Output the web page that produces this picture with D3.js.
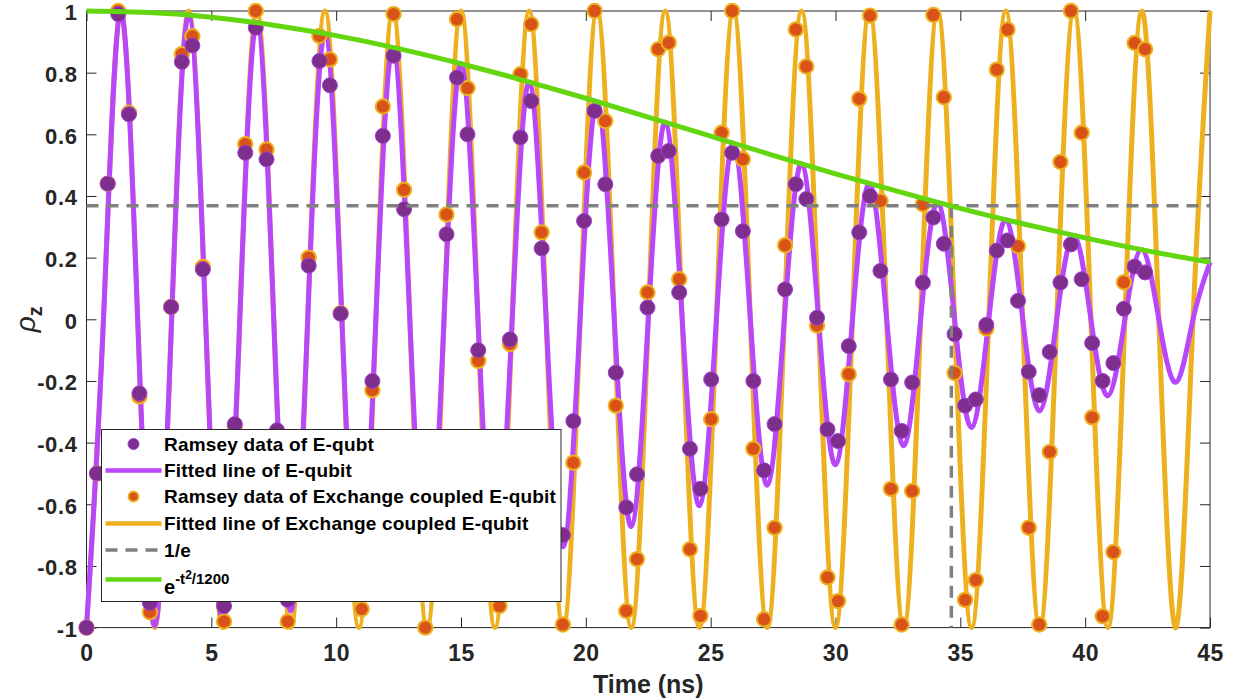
<!DOCTYPE html>
<meta charset="UTF-8">
<head>
<script src="https://d3js.org/d3.v7.min.js"></script>
</head>
<style>
body { margin: 0; background: #fff; }
svg text { font-family: "Liberation Sans", Arial, sans-serif; font-weight: bold; fill: #262626; }
.axis path { display: none; }
.axis line { stroke: #262626; stroke-width: 1px; }
</style>
<body>
<div id="chart"></div>
<script>

// measured sample times (ns), shared by both Ramsey data sets
var tData = [0, 0.42, 0.85, 1.27, 1.70, 2.12, 2.54, 2.97, 3.39, 3.82,
  4.24, 4.66, 5.09, 5.51, 5.94, 6.36, 6.78, 7.21, 7.63, 8.06,
  8.48, 8.90, 9.33, 9.75, 10.18, 10.60, 11.02, 11.45, 11.87, 12.30,
  12.72, 13.14, 13.57, 13.99, 14.42, 14.84, 15.26, 15.69, 16.11, 16.54,
  16.96, 17.38, 17.81, 18.23, 18.66, 19.08, 19.50, 19.93, 20.35, 20.78,
  21.20, 21.62, 22.05, 22.47, 22.90, 23.32, 23.74, 24.17, 24.59, 25.02,
  25.44, 25.86, 26.29, 26.71, 27.14, 27.56, 27.98, 28.41, 28.83, 29.26,
  29.68, 30.10, 30.53, 30.95, 31.38, 31.80, 32.22, 32.65, 33.07, 33.50,
  33.92, 34.34, 34.77, 35.19, 35.62, 36.04, 36.46, 36.89, 37.31, 37.74,
  38.16, 38.58, 39.01, 39.43, 39.86, 40.28, 40.70, 41.13, 41.55, 41.98, 42.40];

// Ramsey data of E-qubit
var ramseyE = [-1, -0.50, 0.44, 0.99, 0.665, -0.24, -0.92, -0.84, 0.04, 0.835,
  0.888, 0.162, -0.65, -0.93, -0.34, 0.54, 0.946, 0.519, -0.36, -0.91,
  -0.73, 0.174, 0.838, 0.759, 0.018, -0.69, -0.88, -0.20, 0.595, 0.855,
  0.357, -0.40, -0.85, -0.58, 0.276, 0.784, 0.60, -0.10, -0.68, -0.75,
  -0.065, 0.59, 0.708, 0.23, -0.41, -0.70, -0.33, 0.319, 0.676, 0.438,
  -0.173, -0.61, -0.503, 0.038, 0.53, 0.546, 0.087, -0.42, -0.55, -0.195,
  0.324, 0.54, 0.286, -0.20, -0.49, -0.34, 0.097, 0.438, 0.39, 0.005,
  -0.357, -0.395, -0.087, 0.282, 0.40, 0.157, -0.195, -0.362, -0.205, 0.119,
  0.33, 0.245, -0.048, -0.28, -0.26, -0.018, 0.223, 0.256, 0.06, -0.17,
  -0.246, -0.106, 0.119, 0.243, 0.13, -0.077, -0.20, -0.142, 0.034, 0.171, 0.152];

// Ramsey data of exchange coupled E-qubit
var ramseyX = [-1, -0.50, 0.44, 1.0, 0.67, -0.25, -0.95, -0.87, 0.04, 0.86,
  0.918, 0.17, -0.66, -0.98, -0.35, 0.568, 1.0, 0.551, -0.37, -0.98,
  -0.77, 0.20, 0.919, 0.843, 0.02, -0.76, -0.94, -0.23, 0.69, 0.99,
  0.42, -0.47, -1.0, -0.68, 0.34, 0.973, 0.75, -0.135, -0.84, -0.93,
  -0.08, 0.795, 0.957, 0.282, -0.55, -0.99, -0.465, 0.476, 1.0, 0.643,
  -0.28, -0.946, -0.778, 0.087, 0.876, 0.897, 0.13, -0.746, -0.962, -0.324,
  0.605, 1.0, 0.519, -0.42, -0.973, -0.676, 0.24, 0.94, 0.82, -0.02,
  -0.837, -0.914, -0.178, 0.715, 0.985, 0.384, -0.55, -0.99, -0.557, 0.373,
  0.987, 0.72, -0.174, -0.91, -0.846, -0.03, 0.81, 0.94, 0.237, -0.676,
  -0.99, -0.43, 0.51, 1.0, 0.605, -0.318, -0.963, -0.755, 0.12, 0.896, 0.876];

// fitted lines: extrema and zero crossings
var fitT = [0, 0.68, 1.36, 2.05, 2.73, 3.41, 4.09, 4.77, 5.45, 6.14,
  6.82, 7.50, 8.18, 8.86, 9.55, 10.23, 10.91, 11.59, 12.27, 12.95,
  13.64, 14.32, 15.00, 15.68, 16.36, 17.05, 17.73, 18.41, 19.09, 19.77,
  20.45, 21.14, 21.82, 22.50, 23.18, 23.86, 24.55, 25.23, 25.91, 26.59,
  27.27, 27.95, 28.64, 29.32, 30.00, 30.68, 31.36, 32.05, 32.73, 33.41,
  34.09, 34.77, 35.45, 36.14, 36.82, 37.50, 38.18, 38.86, 39.55, 40.23,
  40.91, 41.59, 42.27, 42.95, 43.64, 44.32, 45.00];
var fitE = [-1, 0, 0.998, 0, -0.994, 0, 0.986, 0, -0.975, 0,
  0.962, 0, -0.946, 0, 0.927, 0, -0.905, 0, 0.882, 0,
  -0.856, 0, 0.829, 0, -0.800, 0, 0.769, 0, -0.738, 0,
  0.706, 0, -0.672, 0, 0.639, 0, -0.605, 0, 0.571, 0,
  -0.538, 0, 0.505, 0, -0.472, 0, 0.440, 0, -0.410, 0,
  0.379, 0, -0.351, 0, 0.323, 0, -0.297, 0, 0.272, 0,
  -0.248, 0, 0.226, 0, -0.204, 0, 0.185];
var fitX = [-1, 0, 1, 0, -1, 0, 1, 0, -1, 0,
  1, 0, -1, 0, 1, 0, -1, 0, 1, 0,
  -1, 0, 1, 0, -1, 0, 1, 0, -1, 0,
  1, 0, -1, 0, 1, 0, -1, 0, 1, 0,
  -1, 0, 1, 0, -1, 0, 1, 0, -1, 0,
  1, 0, -1, 0, 1, 0, -1, 0, 1, 0,
  -1, 0, 1, 0, -1, 0, 1];

// envelope e^(-t^2/1200)
var envT = [0, 2.5, 5, 7.5, 10, 12.5, 15, 17.5, 20, 22.5, 25, 27.5, 30, 32.5, 35, 37.5, 40, 42.5, 45];
var envV = [1, 0.995, 0.98, 0.954, 0.92, 0.878, 0.829, 0.775, 0.717, 0.656, 0.594, 0.532, 0.472, 0.415, 0.36, 0.31, 0.264, 0.222, 0.185];

var invE = 0.368;      // 1/e level
var crossT = 34.64;    // where envelope meets 1/e

var xTicks = [0, 5, 10, 15, 20, 25, 30, 35, 40, 45];
var yTicks = [-1, -0.8, -0.6, -0.4, -0.2, 0, 0.2, 0.4, 0.6, 0.8, 1];
var yTickLabels = ["-1", "-0.8", "-0.6", "-0.4", "-0.2", "0", "0.2", "0.4", "0.6", "0.8", "1"];
var legendLabels = ["Ramsey data of E-qubt", "Fitted line of E-qubit",
  "Ramsey data of Exchange coupled E-qubit", "Fitted line of Exchange coupled E-qubit", "1/e"];

// Set the dimensions and margins of the diagram
var margin = {top: 11, right: 23, bottom: 72.4, left: 86.5},
    width = 1233 - margin.left - margin.right,
    height = 700 - margin.top - margin.bottom;

var svg = d3.select("#chart").append("svg")
    .attr("width", 1233)
    .attr("height", 700)
  .append("g")
    .attr("transform", "translate(" + margin.left + "," + margin.top + ")");

var x = d3.scaleLinear().domain([0, 45]).range([0, width]);
var y = d3.scaleLinear().domain([-1, 1]).range([height, 0]);

var purpleLine = "#b846fb", purpleDot = "#7e2f8e", orangeLine = "#edb120", orangeDot = "#d95319",
    green = "#64d60f";

// axes (ticks inside, box on)
svg.append("g").attr("class", "axis")
    .attr("transform", "translate(0," + height + ")")
    .call(d3.axisBottom(x).tickValues(xTicks).tickSizeInner(-10).tickSizeOuter(0).tickPadding(17))
    .selectAll("text").style("font-size", "23px").style("letter-spacing", "0.5px");
svg.append("g").attr("class", "axis")
    .call(d3.axisTop(x).tickValues(xTicks).tickSizeInner(-10).tickSizeOuter(0).tickFormat(""));
svg.append("g").attr("class", "axis")
    .call(d3.axisLeft(y).tickValues(yTicks).tickSizeInner(-10).tickSizeOuter(0).tickPadding(9)
      .tickFormat(function(d, i) { return yTickLabels[i]; }))
    .selectAll("text").attr("dy", "0.4em").style("font-size", "22px").style("letter-spacing", "0.6px");
svg.append("g").attr("class", "axis")
    .attr("transform", "translate(" + width + ",0)")
    .call(d3.axisRight(y).tickValues(yTicks).tickSizeInner(-10).tickSizeOuter(0).tickFormat(""));

svg.append("rect")
    .attr("width", width).attr("height", height)
    .attr("fill", "none").attr("stroke", "#262626").attr("stroke-width", 1);

var curve = d3.line()
    .x(function(d) { return x(d[0]); })
    .y(function(d) { return y(d[1]); })
    .curve(d3.curveNatural);

// fitted lines
svg.append("path").datum(d3.zip(fitT, fitX))
    .attr("d", curve).attr("fill", "none")
    .attr("stroke", orangeLine).attr("stroke-width", 5);
svg.append("path").datum(d3.zip(fitT, fitE))
    .attr("d", curve).attr("fill", "none")
    .attr("stroke", purpleLine).attr("stroke-width", 5);

// data points
svg.append("g").selectAll("circle")
    .data(d3.zip(tData, ramseyX))
  .enter().append("circle")
    .attr("cx", function(d) { return x(d[0]); })
    .attr("cy", function(d) { return y(d[1]); })
    .attr("r", 7.2)
    .attr("fill", orangeDot).attr("stroke", orangeLine).attr("stroke-width", 2);
svg.append("g").selectAll("circle")
    .data(d3.zip(tData, ramseyE))
  .enter().append("circle")
    .attr("cx", function(d) { return x(d[0]); })
    .attr("cy", function(d) { return y(d[1]); })
    .attr("r", 7.5)
    .attr("fill", purpleDot).attr("stroke", "#a03fd2").attr("stroke-width", 1);

// 1/e guide lines
svg.append("line")
    .attr("x1", x(0)).attr("x2", x(45)).attr("y1", y(invE)).attr("y2", y(invE))
    .attr("stroke", "#808080").attr("stroke-width", 3.5).attr("stroke-dasharray", "12,8");
svg.append("line")
    .attr("x1", x(crossT)).attr("x2", x(crossT)).attr("y1", y(invE)).attr("y2", y(-1))
    .attr("stroke", "#808080").attr("stroke-width", 3.5).attr("stroke-dasharray", "12,8");

// envelope
svg.append("path").datum(d3.zip(envT, envV))
    .attr("d", curve).attr("fill", "none")
    .attr("stroke", green).attr("stroke-width", 5);

// axis labels
svg.append("text")
    .attr("x", x(22.5)).attr("y", height + 65)
    .attr("text-anchor", "middle").style("font-size", "25px")
    .text("Time (ns)");
var ylab = svg.append("text")
    .attr("transform", "translate(" + (-52) + "," + y(0) + ") rotate(-90)")
    .attr("text-anchor", "middle").style("font-size", "28px");
ylab.append("tspan").style("font-style", "italic").style("font-weight", "normal").text("ρ");
ylab.append("tspan").attr("dy", 7).style("font-size", "20px").text("z");

// legend
var lg = svg.append("g").attr("transform", "translate(" + (101.5 - margin.left) + "," + (429.5 - margin.top) + ")");
lg.append("rect").attr("width", 459.5).attr("height", 172)
    .attr("fill", "#fff").attr("stroke", "#262626").attr("stroke-width", 1);
var rowY = [14.5, 41, 67, 94, 120.5, 150];
legendLabels.forEach(function(lab, i) {
  lg.append("text").attr("x", 62.5).attr("y", rowY[i]).attr("dy", "0.35em")
    .style("font-size", "19px").style("letter-spacing", "0.2px").style("fill", "#000").text(lab);
});
lg.append("circle").attr("cx", 32).attr("cy", rowY[0]).attr("r", 5.5)
    .attr("fill", purpleDot).attr("stroke", "#a03fd2").attr("stroke-width", 1);
lg.append("line").attr("x1", 4).attr("x2", 60).attr("y1", rowY[1]).attr("y2", rowY[1])
    .attr("stroke", purpleLine).attr("stroke-width", 4.5);
lg.append("circle").attr("cx", 32).attr("cy", rowY[2]).attr("r", 5)
    .attr("fill", orangeDot).attr("stroke", orangeLine).attr("stroke-width", 1.8);
lg.append("line").attr("x1", 4).attr("x2", 60).attr("y1", rowY[3]).attr("y2", rowY[3])
    .attr("stroke", orangeLine).attr("stroke-width", 4.5);
lg.append("line").attr("x1", 4).attr("x2", 60).attr("y1", rowY[4]).attr("y2", rowY[4])
    .attr("stroke", "#808080").attr("stroke-width", 3.5).attr("stroke-dasharray", "12,8");
lg.append("line").attr("x1", 4).attr("x2", 60).attr("y1", rowY[5]).attr("y2", rowY[5])
    .attr("stroke", green).attr("stroke-width", 4.5);
var eq = lg.append("text").attr("x", 62.5).attr("y", 164).style("font-size", "20px").style("fill", "#000");
eq.append("tspan").text("e");
eq.append("tspan").attr("dy", -10).style("font-size", "15px").text("-t");
eq.append("tspan").attr("dy", -5).style("font-size", "12px").text("2");
eq.append("tspan").attr("dy", 5).style("font-size", "15px").text("/1200");

</script>
</body>
